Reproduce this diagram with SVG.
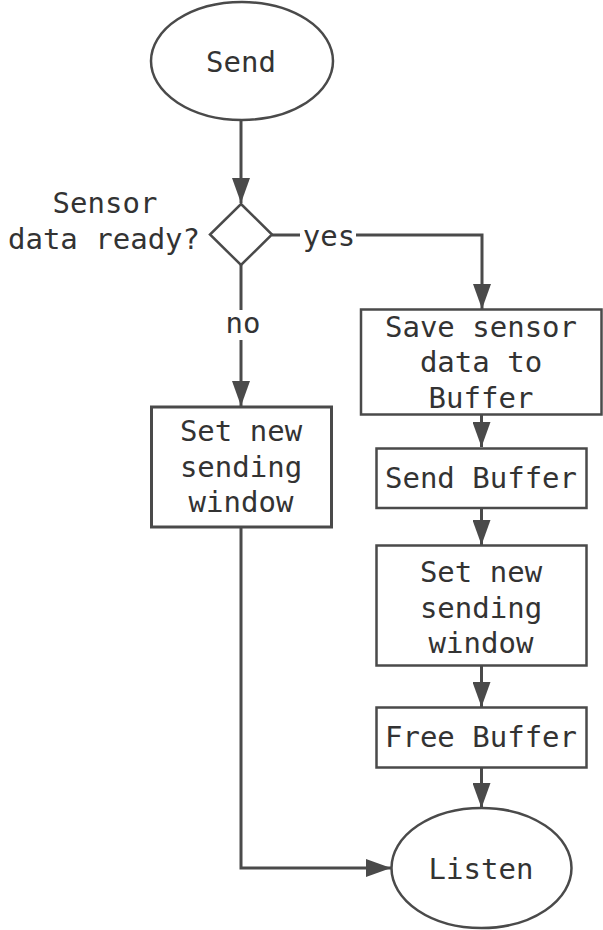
<svg xmlns="http://www.w3.org/2000/svg" width="603" height="930" viewBox="0 0 603 930">
<defs>
<style>
.s{fill:#fff;stroke:#4a4a4a;stroke-width:2.5}
.l{fill:none;stroke:#4a4a4a;stroke-width:3}
text{font-family:"DejaVu Sans Mono","Liberation Mono",monospace;font-size:29px;fill:#333;text-anchor:middle;dominant-baseline:central}
</style>
<marker id="a" markerWidth="10" markerHeight="10" refX="9" refY="5" orient="auto" markerUnits="userSpaceOnUse" viewBox="0 0 10 10" >
<path d="M0,0 L10,5 L0,10 z" fill="#4a4a4a"/>
</marker>
<marker id="ah" viewBox="0 0 25 18" refX="25" refY="9" markerWidth="25" markerHeight="18" orient="auto" markerUnits="userSpaceOnUse">
<path d="M0,0 L25,9 L0,18 z" fill="#4a4a4a"/>
</marker>
</defs>
<g id="connectors">
<path class="l" d="M241,121 V203" marker-end="url(#ah)"/>
<path class="l" d="M272,235 H482 V309" marker-end="url(#ah)"/>
<path class="l" d="M241,265 V406" marker-end="url(#ah)"/>
<path class="l" d="M481.5,415 V447" marker-end="url(#ah)"/>
<path class="l" d="M481.5,508 V545" marker-end="url(#ah)"/>
<path class="l" d="M481.5,666 V707" marker-end="url(#ah)"/>
<path class="l" d="M481.5,768 V808" marker-end="url(#ah)"/>
<path class="l" d="M241,528 V868 H391" marker-end="url(#ah)"/>
<rect x="300" y="222" width="56" height="28" fill="#fff"/>
<text x="329" y="236">yes</text>
<rect x="225" y="310" width="36" height="30" fill="#fff"/>
<text x="243" y="323">no</text>
</g>
<g id="send">
<ellipse class="s" cx="242" cy="61" rx="91" ry="59"/>
<text x="241" y="62">Send</text>
</g>
<g id="decision">
<path class="s" d="M241,204 L272,234.5 L241,265 L210,234.5 z"/>
<text x="105" y="203">Sensor</text>
<text x="104" y="239">data ready?</text>
</g>
<g id="setwin1">
<rect class="s" x="151.5" y="407" width="180" height="120" style="stroke-width:3"/>
<text x="241" y="431">Set new</text>
<text x="241" y="467">sending</text>
<text x="241" y="502">window</text>
</g>
<g id="save">
<rect class="s" x="361" y="309.5" width="240.5" height="105"/>
<text x="481" y="327">Save sensor</text>
<text x="481" y="362">data to</text>
<text x="481" y="398">Buffer</text>
</g>
<g id="sendbuf">
<rect class="s" x="376.5" y="448.5" width="210" height="59.5"/>
<text x="481" y="478">Send Buffer</text>
</g>
<g id="setwin2">
<rect class="s" x="376.5" y="545.5" width="210" height="120"/>
<text x="481" y="572">Set new</text>
<text x="481" y="608">sending</text>
<text x="481" y="643">window</text>
</g>
<g id="free">
<rect class="s" x="376.5" y="707.5" width="210" height="60"/>
<text x="481" y="737">Free Buffer</text>
</g>
<g id="listen">
<ellipse class="s" cx="481.5" cy="868" rx="90" ry="60"/>
<text x="481" y="869">Listen</text>
</g>
</svg>
